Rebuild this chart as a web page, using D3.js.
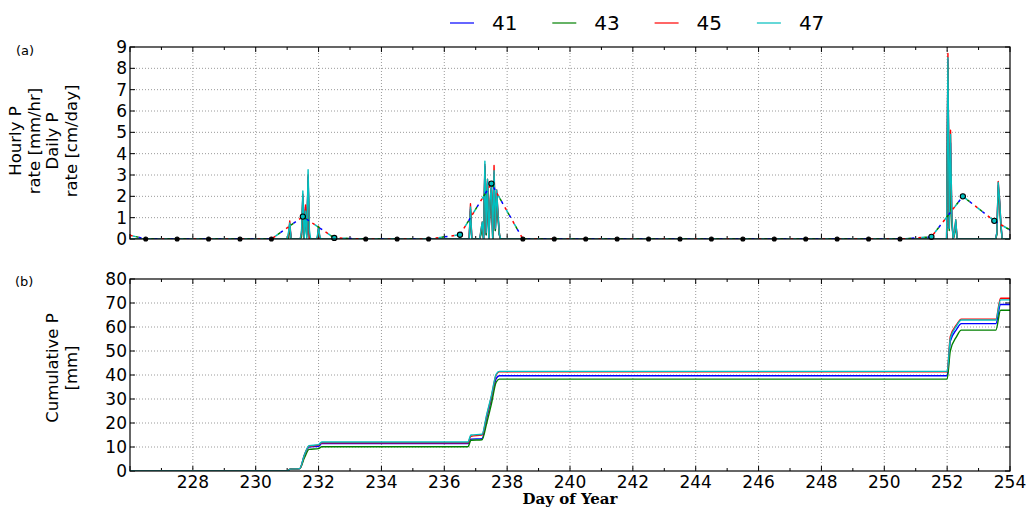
<!DOCTYPE html>
<html><head><meta charset="utf-8">
<script src="https://cdn.jsdelivr.net/npm/d3@7"></script>
<style>
body{margin:0;background:#fff}
text{font-family:"DejaVu Sans",sans-serif;fill:#000}
</style>
</head><body>
<svg id="chart" width="1029" height="509"></svg>
<script>
// ---- members and colours ----
const members = ["41", "43", "45", "47"];
const memberColors = ["#0000ff", "#008000", "#ff0000", "#00bfbf"];

// ---- hourly precipitation rate [mm/hr], one value per hour of each storm window ----
const storm1Start = 231.0;
const storm1_41 = [0,0,0.7,0,0,0,0,0,0,0,0,0.2,2.0,0,1.5,0.2,2.9,0,0,0,0,0,0,0,0.5,0,0];
const storm1_43 = [0,0,0.6,0,0,0,0,0,0,0,0,0.1,1.8,0,1.4,0.1,2.7,0,0,0,0,0,0,0,0.45,0,0];
const storm1_45 = [0,0.2,0.85,0,0,0,0,0,0,0,0,0.3,2.1,0,1.6,0.2,3.0,0,0,0,0,0,0,0,0.6,0,0];
const storm1_47 = [0,0.3,0.75,0,0,0,0,0,0,0,0,0.4,2.25,0,1.3,0,3.25,0.4,0,0,0,0,0,0.1,0.55,0.1,0];

const storm2Start = 236.75;
const storm2_41 = [0,0,1.4,0,0,0,0,0,0,0,0.3,0.7,0,3.4,0.2,2.7,0,1.6,2.4,0,3.1,0.4,2.2,1.1,0.2,0,0,0,0,0,0];
const storm2_43 = [0,0,1.3,0,0,0,0,0,0,0,0.2,0.6,0,3.3,0.2,2.6,0,1.5,2.3,0,3.0,0.4,2.0,1.0,0.2,0,0,0,0,0,0];
const storm2_45 = [0,0,1.65,0,0,0,0,0,0,0,0.4,0.8,0,3.5,0.3,2.8,0,1.9,2.5,0,3.45,0.5,2.3,1.2,0.3,0,0,0,0,0,0];
const storm2_47 = [0,0,1.5,0,0,0,0,0,0,0,0.4,0.8,0,3.65,0.3,2.8,0,1.8,2.5,0,3.2,0.5,2.3,1.2,0.3,0,0,0,0,0,0];

const storm3Start = 251.9;
const storm3_41 = [0,0,0,8.4,0.5,4.5,0.9,0,0.3,0.8,0,0,0];
const storm3_43 = [0,0,0,8.2,0.4,2.3,0.8,0,0.2,0.7,0,0,0];
const storm3_45 = [0,0,0,8.7,0.6,5.1,1.0,0,0.3,0.9,0,0,0];
const storm3_47 = [0,0,0,8.5,0.5,4.9,1.0,0,0.3,0.9,0,0,0];

const storm4Start = 253.5;
const storm4_41 = [0,0,0.3,2.5,1.8,0.7,0,0,0,0,0,0,0];
const storm4_43 = [0,0,0.2,2.4,1.7,0.6,0,0,0,0,0,0,0];
const storm4_45 = [0,0,0.3,2.7,1.9,0.8,0,0,0,0,0,0,0];
const storm4_47 = [0,0,0.3,2.65,1.9,0.8,0,0,0,0,0,0,0];

// ---- daily precipitation rate [cm/day], at mid-day ----
const dailyDays = [225.5,226.5,227.5,228.5,229.5,230.5,231.5,232.5,233.5,234.5,235.5,236.5,237.5,238.5,239.5,240.5,241.5,242.5,243.5,244.5,245.5,246.5,247.5,248.5,249.5,250.5,251.5,252.5,253.5,254.5];
const dailyRate = [0.35,0,0,0,0,0,1.05,0.05,0,0,0,0.2,2.6,0,0,0,0,0,0,0,0,0,0,0,0,0,0.1,2.0,0.85,0];

// ---- cumulative precipitation [mm] ----
const cumDays = [226,231.0,231.1,231.4,231.55,231.7,232.0,232.1,236.75,236.85,237.2,237.35,237.5,237.65,237.75,252.0,252.1,252.3,252.45,253.55,253.7,254];
const cum_41 = [0,0,0.8,1.0,6.5,10.0,10.3,11.4,11.4,13.3,13.5,22,30,38.5,39.7,39.7,54,59,61.4,61.4,69.4,69.4];
const cum_43 = [0,0,0.8,1.0,5.5,9.0,9.3,10.1,10.1,12.8,13.0,20,28,37,38.3,38.3,50,56,58.7,58.7,67,67];
const cum_45 = [0,0,0.8,1.0,6.7,10.3,10.8,11.8,11.8,14.5,15.0,23,31,40,41.3,41.3,56,61,63.3,63.3,72,72];
const cum_47 = [0,0,0.8,1.0,6.8,10.5,11.0,12.1,12.1,15.0,15.3,23.5,31.5,40.3,41.5,41.5,55,60.5,62.9,62.9,71.3,71.3];

// ---- axis ticks ----
const xMajorTicks = [226,228,230,232,234,236,238,240,242,244,246,248,250,252,254];
const xTickLabels = ["","228","230","232","234","236","238","240","242","244","246","248","250","252","254"];
const yTopTicks = [0,1,2,3,4,5,6,7,8,9];
const yBotTicks = [0,10,20,30,40,50,60,70,80];

// ---- layout ----
const svg = d3.select("#chart");
const L = 130, R = 1010;
const x = d3.scaleLinear().domain([226, 254]).range([L, R]);
const yTop = d3.scaleLinear().domain([0, 9]).range([239, 47]);
const yBot = d3.scaleLinear().domain([0, 80]).range([471, 279]);

const hourly = {
  "41": [[storm1Start, storm1_41], [storm2Start, storm2_41], [storm3Start, storm3_41], [storm4Start, storm4_41]],
  "43": [[storm1Start, storm1_43], [storm2Start, storm2_43], [storm3Start, storm3_43], [storm4Start, storm4_43]],
  "45": [[storm1Start, storm1_45], [storm2Start, storm2_45], [storm3Start, storm3_45], [storm4Start, storm4_45]],
  "47": [[storm1Start, storm1_47], [storm2Start, storm2_47], [storm3Start, storm3_47], [storm4Start, storm4_47]]
};
const cumulative = {"41": cum_41, "43": cum_43, "45": cum_45, "47": cum_47};

function hourlyPoints(m) {
  const pts = [[226, 0]];
  hourly[m].forEach(([start, vals]) => {
    vals.forEach((v, i) => pts.push([start + i / 24, v]));
  });
  pts.push([254, 0]);
  return pts;
}

const defs = svg.append("defs");
function clip(id, y0, y1) {
  defs.append("clipPath").attr("id", id).append("rect")
    .attr("x", L).attr("y", y0).attr("width", R - L).attr("height", y1 - y0);
}
clip("clipTop", 47, 239);
clip("clipBot", 279, 471);

function panel(y, ticks, top, bottom, showXLabels, clipId) {
  const g = svg.append("g");
  // grid
  const grid = g.append("g").attr("stroke", "#9a9a9a").attr("stroke-dasharray", "1,2").attr("stroke-width", 1);
  xMajorTicks.filter(d => d > 226 && d < 254).forEach(d => {
    grid.append("line").attr("x1", x(d)).attr("x2", x(d)).attr("y1", top).attr("y2", bottom);
  });
  ticks.filter(d => d > y.domain()[0] && d < y.domain()[1]).forEach(d => {
    grid.append("line").attr("x1", L).attr("x2", R).attr("y1", y(d)).attr("y2", y(d));
  });
  // inward ticks
  const tk = g.append("g").attr("stroke", "#000").attr("stroke-width", 1);
  d3.range(226, 255).forEach(d => {
    const len = d % 2 === 0 ? 5 : 3;
    tk.append("line").attr("x1", x(d)).attr("x2", x(d)).attr("y1", bottom).attr("y2", bottom - len);
    tk.append("line").attr("x1", x(d)).attr("x2", x(d)).attr("y1", top).attr("y2", top + len);
  });
  ticks.forEach(d => {
    tk.append("line").attr("x1", L).attr("x2", L + 5).attr("y1", y(d)).attr("y2", y(d));
    tk.append("line").attr("x1", R).attr("x2", R - 5).attr("y1", y(d)).attr("y2", y(d));
  });
  // y tick labels
  g.append("g").selectAll("text").data(ticks).join("text")
    .attr("x", L - 3).attr("y", d => y(d) + 6)
    .attr("text-anchor", "end").style("font-size", "17px").text(d => d);
  if (showXLabels) {
    g.append("g").selectAll("text").data(xMajorTicks).join("text")
      .attr("x", d => x(d)).attr("y", bottom + 17)
      .attr("text-anchor", "middle").style("font-size", "17px")
      .text((d, i) => xTickLabels[i]);
  }
  const plot = svg.append("g").attr("clip-path", `url(#${clipId})`);
  return {g, plot};
}

// ---- panel (a): hourly and daily rates ----
const pa = panel(yTop, yTopTicks, 47, 239, false, "clipTop");
const lineTop = d3.line().x(d => x(d[0])).y(d => yTop(d[1]));
members.forEach((m, i) => {
  pa.plot.append("path").datum(hourlyPoints(m))
    .attr("fill", "none").attr("stroke", memberColors[i]).attr("stroke-width", 1.4)
    .attr("stroke-linejoin", "round").attr("d", lineTop);
});
// daily rates drawn as interleaved dashes, one colour per member, with gaps
const dailyPts = dailyDays.map((d, i) => [d, dailyRate[i]]);
const dashOrder = [2, 3, 1, 0];
dashOrder.forEach((mi, k) => {
  pa.plot.append("path").datum(dailyPts)
    .attr("fill", "none").attr("stroke", memberColors[mi]).attr("stroke-width", 1.5)
    .attr("stroke-dasharray", "3,13").attr("stroke-dashoffset", -3 * k)
    .attr("d", lineTop);
});
svg.append("g").selectAll("circle").data(dailyPts.filter(d => d[0] > 226 && d[0] < 254)).join("circle")
  .attr("cx", d => x(d[0])).attr("cy", d => yTop(d[1])).attr("r", d => d[1] > 0 ? 2.6 : 2)
  .attr("fill", d => d[1] > 0 ? "#00bfbf" : "#000").attr("stroke", "#000").attr("stroke-width", 1.1);

// ---- panel (b): cumulative ----
const pb = panel(yBot, yBotTicks, 279, 471, true, "clipBot");
const lineBot = d3.line().x(d => x(d[0])).y(d => yBot(d[1])).curve(d3.curveMonotoneX);
members.forEach((m, i) => {
  pb.plot.append("path").datum(cumDays.map((d, j) => [d, cumulative[m][j]]))
    .attr("fill", "none").attr("stroke", memberColors[i]).attr("stroke-width", 1.4)
    .attr("d", lineBot);
});

// frames
[[47, 239], [279, 471]].forEach(([t, b]) => {
  svg.append("rect").attr("x", L).attr("y", t).attr("width", R - L).attr("height", b - t)
    .attr("fill", "none").attr("stroke", "#000").attr("stroke-width", 1.2);
});

// axis titles
function vlabel(xb, yc, txt) {
  svg.append("text").attr("transform", `translate(${xb},${yc}) rotate(-90)`)
    .attr("text-anchor", "middle").style("font-size", "16.5px").text(txt);
}
vlabel(21, 141, "Hourly P");
vlabel(40, 141, "rate [mm/hr]");
vlabel(58, 141, "Daily P");
vlabel(77, 141, "rate [cm/day]");
vlabel(58, 368, "Cumulative P");
vlabel(77, 368, "[mm]");

svg.append("text").attr("x", 16).attr("y", 55).style("font-size", "13px").text("(a)");
svg.append("text").attr("x", 15).attr("y", 286).style("font-size", "13px").text("(b)");
svg.append("text").attr("x", (L + R) / 2).attr("y", 504).attr("text-anchor", "middle")
  .style("font-family", "'DejaVu Serif',serif").style("font-weight", "bold").style("font-size", "15px")
  .text("Day of Year");

// legend
const lg = svg.append("g");
members.forEach((m, i) => {
  const x0 = 450 + i * 102.3;
  lg.append("line").attr("x1", x0).attr("x2", x0 + 24).attr("y1", 23).attr("y2", 23)
    .attr("stroke", memberColors[i]).attr("stroke-width", 1.2);
  lg.append("text").attr("x", x0 + 42).attr("y", 30).style("font-size", "20px").text(m);
});
</script>
</body></html>
